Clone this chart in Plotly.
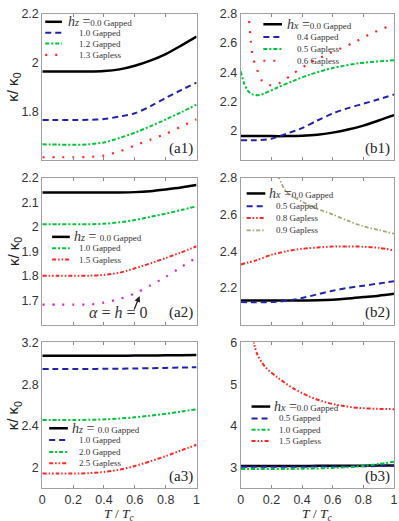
import plotly.graph_objects as go

W, H = 399, 521

T = [0, 0.1, 0.2, 0.3, 0.4, 0.5, 0.6, 0.7, 0.8, 0.9, 1.0]

# (a1) kappa/kappa0 vs T/Tc for several hz
a1_h00 = [1.963, 1.963, 1.963, 1.963, 1.965, 1.972, 1.987, 2.008, 2.035, 2.07, 2.107]
a1_h10 = [1.764, 1.764, 1.764, 1.765, 1.768, 1.778, 1.792, 1.82, 1.855, 1.887, 1.918]
a1_h12 = [1.664, 1.663, 1.662, 1.664, 1.672, 1.69, 1.712, 1.738, 1.766, 1.796, 1.827]
a1_h13 = [1.611, 1.611, 1.611, 1.612, 1.618, 1.635, 1.659, 1.683, 1.707, 1.737, 1.767]

# (b1) hx scan
b1_h00 = [1.963, 1.963, 1.963, 1.963, 1.965, 1.972, 1.987, 2.008, 2.035, 2.07, 2.107]
b1_h04 = [1.935, 1.935, 1.945, 1.98, 2.018, 2.07, 2.118, 2.155, 2.185, 2.215, 2.248]
b1_h05_T = [0, 0.02, 0.045, 0.075, 0.12, 0.16, 0.24, 0.34, 0.45, 0.6, 0.77, 1.0]
b1_h05 = [2.407, 2.33, 2.275, 2.25, 2.244, 2.258, 2.296, 2.34, 2.384, 2.429, 2.462, 2.482]
b1_h06_T = [0.05, 0.065, 0.08, 0.1, 0.14, 0.2, 0.26, 0.34, 0.46, 0.58, 0.73, 0.86, 1.0]
b1_h06 = [2.82, 2.62, 2.50, 2.44, 2.34, 2.31, 2.33, 2.39, 2.47, 2.53, 2.60, 2.67, 2.73]

# (a2)
a2_h00 = [2.14, 2.14, 2.14, 2.14, 2.14, 2.14, 2.141, 2.145, 2.152, 2.16, 2.17]
a2_h10 = [2.01, 2.01, 2.01, 2.01, 2.012, 2.018, 2.027, 2.04, 2.053, 2.068, 2.083]
a2_h15 = [1.80, 1.80, 1.80, 1.80, 1.803, 1.812, 1.83, 1.85, 1.872, 1.895, 1.92]
a2_free = [1.682, 1.682, 1.682, 1.682, 1.69, 1.705, 1.727, 1.76, 1.795, 1.835, 1.874]

# (b2)
b2_h00 = [2.132, 2.132, 2.132, 2.132, 2.132, 2.133, 2.136, 2.142, 2.15, 2.158, 2.168]
b2_h05 = [2.123, 2.122, 2.123, 2.13, 2.145, 2.165, 2.185, 2.2, 2.212, 2.224, 2.236]
b2_h08 = [2.328, 2.35, 2.38, 2.40, 2.413, 2.42, 2.425, 2.426, 2.424, 2.418, 2.405]
b2_h09_T = [0.2, 0.247, 0.3, 0.4, 0.5, 0.6, 0.7, 0.8, 0.9, 1.0]
b2_h09 = [2.85, 2.80, 2.72, 2.67, 2.63, 2.60, 2.565, 2.535, 2.515, 2.495]

# (a3)
a3_h00 = [3.073, 3.073, 3.073, 3.073, 3.073, 3.073, 3.074, 3.075, 3.076, 3.078, 3.08]
a3_h10 = [2.946, 2.946, 2.946, 2.946, 2.947, 2.948, 2.95, 2.953, 2.956, 2.959, 2.962]
a3_h20 = [2.457, 2.457, 2.457, 2.458, 2.462, 2.47, 2.482, 2.498, 2.516, 2.537, 2.559]
a3_h25 = [1.943, 1.943, 1.943, 1.946, 1.958, 1.98, 2.015, 2.06, 2.11, 2.165, 2.219]

# (b3)
b3_h00 = [3.04, 3.04, 3.04, 3.04, 3.04, 3.041, 3.042, 3.044, 3.046, 3.048, 3.05]
b3_h05 = [3.02, 3.02, 3.02, 3.021, 3.022, 3.024, 3.026, 3.029, 3.032, 3.036, 3.04]
b3_h10 = [2.965, 2.965, 2.966, 2.968, 2.972, 2.98, 2.992, 3.01, 3.04, 3.085, 3.14]
b3_h15_T = [0.08, 0.107, 0.16, 0.236, 0.343, 0.45, 0.56, 0.665, 0.77, 0.88, 1.0]
b3_h15 = [6.08, 5.72, 5.41, 5.17, 4.9, 4.7, 4.56, 4.48, 4.43, 4.41, 4.4]

X_TICKS = [0, 0.2, 0.4, 0.6, 0.8, 1]
X_TICKTEXT = ["0", "0.2", "0.4", "0.6", "0.8", "1"]

SERIF = "Liberation Serif"
SANS = "Liberation Sans"

BLACK = dict(color="black", width=2.5, dash="solid")
BLUE = dict(color="#2323a8", width=2, dash="6px,4px")
GREEN = dict(color="#00c53a", width=2, dash="4px,2px,2px,2px")
RED_DOT = dict(color="#ff2525", width=2.2, dash="2px,8px")
RED_DD = dict(color="#ff2525", width=2, dash="4px,2px,1.5px,2px,1.5px,2px")
MAGENTA = dict(color="#c42cc4", width=2.2, dash="2px,8px")
OLIVE = dict(color="#a6a874", width=1.8, dash="4px,2px,1.5px,2px")


def px(x):
    return x / W


def py(y):
    return 1 - y / H


def head(sym, val, sp=""):
    return (f'<span style="font-size:14px"><i>h<span style="font-size:10px">{sym}</span></i> ='
            f'{sp}</span>{val}')


# columns / rows in pixels of the final image
COLS = [(40, 197), (242, 398)]
ROWS = [(7, 155), (173, 322), (340, 488)]

panels = [
    dict(row=0, col=0, tag="(a1)", yr=[1.6, 2.2], yt=[1.8, 2, 2.2], ytt=["1.8", "2", "2.2"],
         traces=[(T, a1_h00, BLACK, head("z", "0.0 Gapped")),
                 (T, a1_h10, BLUE, "1.0 Gapped"),
                 (T, a1_h12, GREEN, "1.2 Gapped"),
                 (T, a1_h13, RED_DOT, "1.3 Gapless")],
         leg=dict(l0=43, l1=60, rows=[15, 26, 37, 48.5], hx=64, ix=75)),
    dict(row=0, col=1, tag="(b1)", yr=[1.8, 2.8], yt=[2, 2.2, 2.4, 2.6, 2.8],
         ytt=["2", "2.2", "2.4", "2.6", "2.8"],
         traces=[(T, b1_h00, BLACK, head("x", "0.0 Gapped")),
                 (T, b1_h04, BLUE, "0.4 Gapped"),
                 (b1_h05_T, b1_h05, GREEN, "0.5 Gapless"),
                 (b1_h06_T, b1_h06, RED_DOT, "0.6 Gapless")],
         leg=dict(l0=265, l1=284, rows=[17.5, 30.5, 42.5, 54.5], hx=287, ix=297)),
    dict(row=1, col=0, tag="(a2)", yr=[1.6, 2.2], yt=[1.7, 1.8, 1.9, 2, 2.1, 2.2],
         ytt=["1.7", "1.8", "1.9", "2", "2.1", "2.2"],
         traces=[(T, a2_h00, BLACK, head("z", "0.0 Gapped", " ")),
                 (T, a2_h10, GREEN, "1.0 Gapped"),
                 (T, a2_h15, RED_DD, "1.5 Gapless"),
                 (T, a2_free, MAGENTA, None)],
         leg=dict(l0=50, l1=68, rows=[233, 244.5, 256], hx=70, ix=75)),
    dict(row=1, col=1, tag="(b2)", yr=[2.0, 2.8], yt=[2.2, 2.4, 2.6, 2.8],
         ytt=["2.2", "2.4", "2.6", "2.8"],
         traces=[(T, b2_h00, BLACK, head("x", "0.0 Gapped")),
                 (T, b2_h05, BLUE, "0.5 Gapped"),
                 (T, b2_h08, RED_DD, "0.8 Gapless"),
                 (b2_h09_T, b2_h09, OLIVE, "0.9 Gapless")],
         leg=dict(l0=248, l1=267, rows=[189, 202, 214, 226.5], hx=269, ix=276)),
    dict(row=2, col=0, tag="(a3)", yr=[1.8, 3.2], yt=[2, 2.4, 2.8, 3.2],
         ytt=["2", "2.4", "2.8", "3.2"],
         traces=[(T, a3_h00, BLACK, head("z", "0.0 Gapped", " ")),
                 (T, a3_h10, BLUE, "1.0 Gapped"),
                 (T, a3_h20, GREEN, "2.0 Gapped"),
                 (T, a3_h25, RED_DD, "2.5 Gapless")],
         leg=dict(l0=47, l1=66, rows=[427, 439, 451, 462.5], hx=68, ix=75)),
    dict(row=2, col=1, tag="(b3)", yr=[2.5, 6.0], yt=[3, 4, 5, 6], ytt=["3", "4", "5", "6"],
         traces=[(T, b3_h00, BLACK, head("x", "0.0 Gapped")),
                 (T, b3_h05, BLUE, "0.5 Gapped"),
                 (T, b3_h10, GREEN, "1.0 Gapped"),
                 (b3_h15_T, b3_h15, RED_DD, "1.5 Gapless")],
         leg=dict(l0=253, l1=272, rows=[405, 417, 428.5, 440], hx=274, ix=279)),
]

fig = go.Figure()
shapes, annotations = [], []
layout = {}

for k, p in enumerate(panels, start=1):
    sfx = "" if k == 1 else str(k)
    c0, c1 = COLS[p["col"]]
    r0, r1 = ROWS[p["row"]]
    last_row = p["row"] == 2
    layout["xaxis" + sfx] = dict(
        domain=[px(c0), px(c1)], anchor="y" + sfx, range=[0, 1],
        tickvals=X_TICKS, ticktext=X_TICKTEXT, showticklabels=last_row,
        ticks="inside", ticklen=3, tickcolor="#8a8a8a", showline=True, linecolor="#a0a0a0",
        linewidth=1, mirror="ticks", showgrid=False, zeroline=False,
        tickfont=dict(family=SANS, size=12.5, color="#333"),
    )
    layout["yaxis" + sfx] = dict(
        domain=[py(r1), py(r0)], anchor="x" + sfx, range=p["yr"],
        tickvals=p["yt"], ticktext=p["ytt"], ticks="", showline=True,
        linecolor="#a0a0a0", linewidth=1, mirror=True, showgrid=False, zeroline=False,
        tickfont=dict(family=SANS, size=12.5, color="#333"),
    )
    for x, y, st, label in p["traces"]:
        fig.add_trace(go.Scatter(
            x=x, y=y, mode="lines", xaxis="x" + sfx, yaxis="y" + sfx,
            line=dict(color=st["color"], width=st["width"], dash=st["dash"],
                      shape="spline", smoothing=0.8),
            showlegend=False, hoverinfo="skip",
        ))
    # hand-drawn legend box (compact, like the original figure)
    lg = p["leg"]
    labelled = [t for t in p["traces"] if t[3] is not None]
    for i, (x, y, st, label) in enumerate(labelled):
        yy = lg["rows"][i]
        shapes.append(dict(type="line", xref="paper", yref="paper",
                           x0=px(lg["l0"]), x1=px(lg["l1"]), y0=py(yy), y1=py(yy),
                           line=dict(color=st["color"], width=st["width"], dash=st["dash"])))
        annotations.append(dict(
            xref="paper", yref="paper", x=px(lg["hx"] if i == 0 else lg["ix"]), y=py(yy),
            xanchor="left", yanchor="middle", text=label, showarrow=False,
            font=dict(family=SERIF, size=9, color="#333"),
        ))
    annotations.append(dict(
        xref="paper", yref="paper", x=px(c1 - 2), y=py(r1 - 12), xanchor="right",
        yanchor="middle", text=p["tag"], showarrow=False,
        font=dict(family=SERIF, size=15, color="#222"),
    ))

# y titles for each row
for r0, r1 in ROWS:
    annotations.append(dict(
        xref="paper", yref="paper", x=px(11), y=py((r0 + r1) / 2), xanchor="center",
        yanchor="middle", text="κ/ κ<sub>0</sub>", textangle=-90, showarrow=False,
        font=dict(family=SANS, size=15, color="#222"),
    ))

# x titles
for c0, c1 in COLS:
    annotations.append(dict(
        xref="paper", yref="paper", x=px((c0 + c1) / 2), y=py(514.5), xanchor="center",
        yanchor="middle", text="<i>T</i> / <i>T<sub>c</sub></i>", showarrow=False,
        font=dict(family=SERIF, size=13.5, color="#222"),
    ))

# alpha = h = 0 label with arrow in (a2)
annotations.append(dict(
    xref="paper", yref="paper", x=px(117), y=py(310), xanchor="center", yanchor="middle",
    text="<i>α</i> = <i>h</i> = 0", showarrow=False,
    font=dict(family=SERIF, size=16, color="#333"),
))
annotations.append(dict(
    xref="paper", yref="paper", x=px(139), y=py(293), ax=-6, ay=15, text="",
    showarrow=True, arrowhead=2, arrowsize=0.9, arrowwidth=1.3, arrowcolor="#222",
))

fig.update_layout(
    width=W, height=H, margin=dict(l=0, r=0, t=0, b=0),
    plot_bgcolor="white", paper_bgcolor="white",
    showlegend=False, shapes=shapes, annotations=annotations, **layout,
)

fig.write_html("out.html", config={"displayModeBar": False},
               post_script="document.body.style.margin='0';")
